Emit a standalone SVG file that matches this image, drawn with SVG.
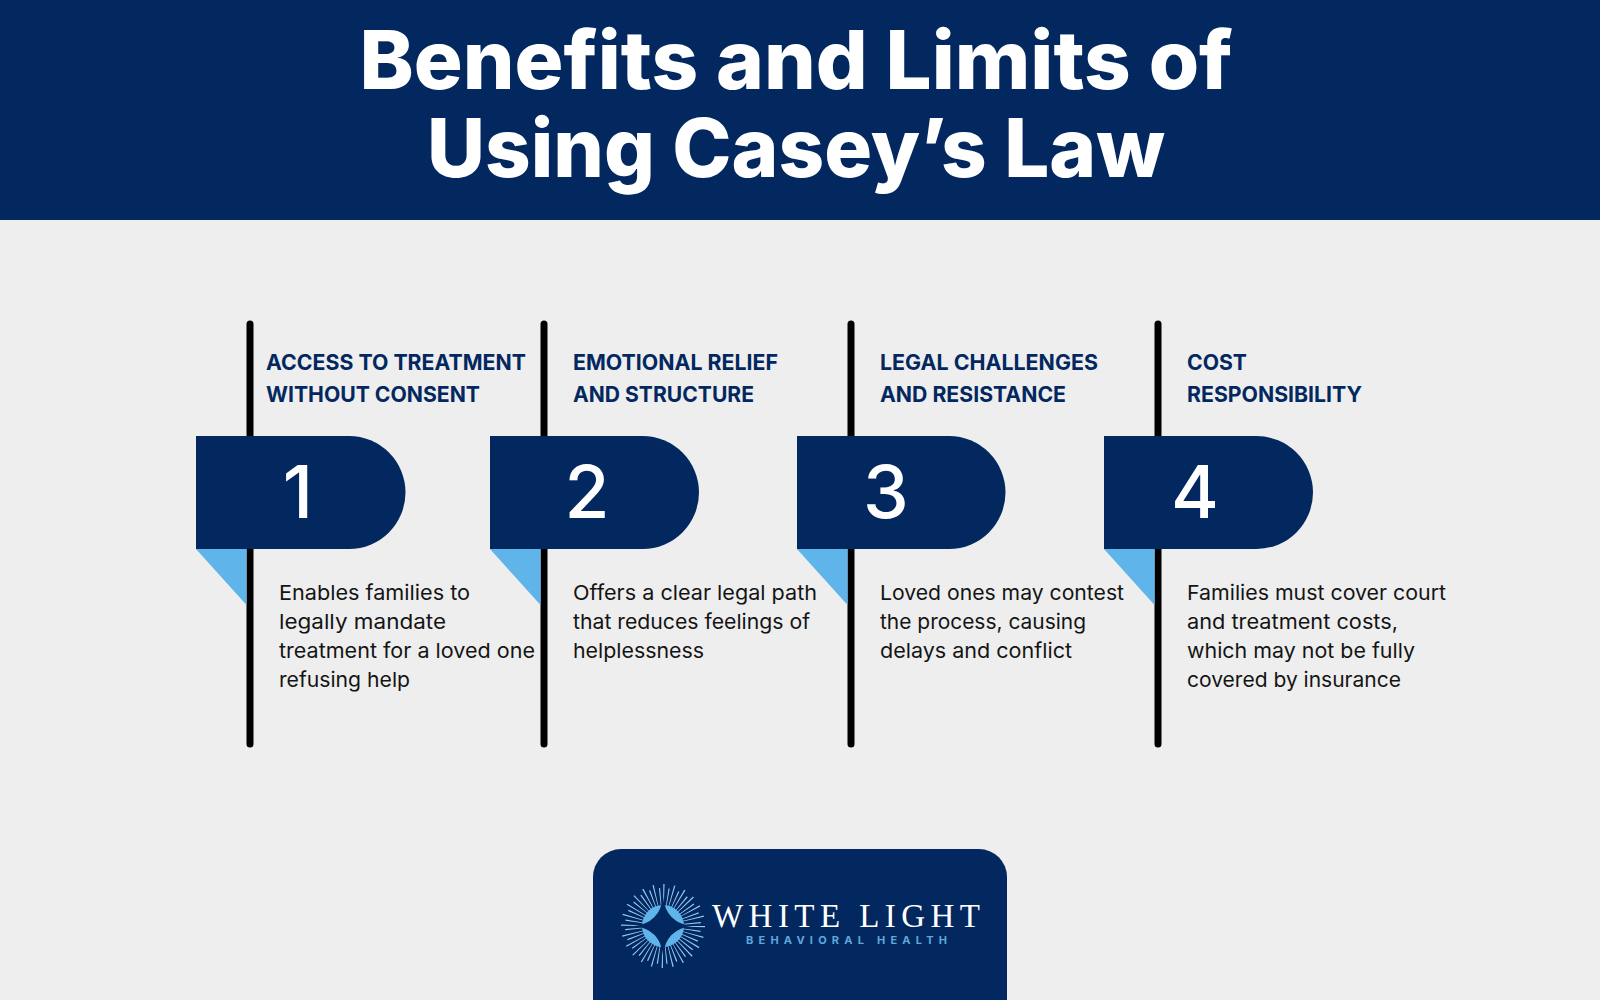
<svg xmlns="http://www.w3.org/2000/svg" width="1600" height="1000" viewBox="0 0 1600 1000">
<style>
.title{font:800 81px Inter,"Liberation Sans",sans-serif;fill:#fff;text-anchor:middle}
.head{font:700 21.5px Inter,"Liberation Sans",sans-serif;fill:#032860}
.body{font:400 20.500px Inter,"Noto Sans",sans-serif;fill:#141414}
.num{font:500 73px Inter,"Liberation Sans",sans-serif;fill:#fff;text-anchor:middle}
.badge{fill:#032860}
.fold{fill:#5fb5ea}
.rail{stroke:#000;stroke-width:7;stroke-linecap:round}
</style>
<rect width="1600" height="1000" fill="#eeeeee"/>
<g id="header">
<rect width="1600" height="220" fill="#032860"/>
<text class="title" x="796" y="89" textLength="873" lengthAdjust="spacingAndGlyphs">Benefits and Limits of</text>
<text class="title" x="796" y="177" textLength="738" lengthAdjust="spacingAndGlyphs">Using Casey’s Law</text>
</g>
<g id="connectors">
<line class="rail" x1="250" y1="324" x2="250" y2="744"/>
<line class="rail" x1="544" y1="324" x2="544" y2="744"/>
<line class="rail" x1="851" y1="324" x2="851" y2="744"/>
<line class="rail" x1="1158" y1="324" x2="1158" y2="744"/>
</g>
<g id="step1">
<path class="fold" d="M196 549H246.500V605Z"/>
<path class="badge" d="M196 436H349A56.500 56.500 0 0 1 349 549H196Z"/>
<text class="num" x="298" y="518">1</text>
<text class="head" x="266" y="370" textLength="260" lengthAdjust="spacingAndGlyphs">ACCESS TO TREATMENT</text>
<text class="head" x="266" y="402" textLength="214" lengthAdjust="spacingAndGlyphs">WITHOUT CONSENT</text>
<text class="body" x="279" y="600" textLength="191" lengthAdjust="spacingAndGlyphs">Enables families to</text>
<text class="body" x="279" y="629" textLength="167" lengthAdjust="spacingAndGlyphs">legally mandate</text>
<text class="body" x="279" y="658" textLength="256" lengthAdjust="spacingAndGlyphs">treatment for a loved one</text>
<text class="body" x="279" y="687" textLength="131" lengthAdjust="spacingAndGlyphs">refusing help</text>
</g>
<g id="step2">
<path class="fold" d="M490 549H540.500V605Z"/>
<path class="badge" d="M490 436H642.500A56.500 56.500 0 0 1 642.500 549H490Z"/>
<text class="num" x="587" y="518">2</text>
<text class="head" x="573" y="370" textLength="205" lengthAdjust="spacingAndGlyphs">EMOTIONAL RELIEF</text>
<text class="head" x="573" y="402" textLength="181" lengthAdjust="spacingAndGlyphs">AND STRUCTURE</text>
<text class="body" x="573" y="600" textLength="244" lengthAdjust="spacingAndGlyphs">Offers a clear legal path</text>
<text class="body" x="573" y="629" textLength="237" lengthAdjust="spacingAndGlyphs">that reduces feelings of</text>
<text class="body" x="573" y="658" textLength="131" lengthAdjust="spacingAndGlyphs">helplessness</text>
</g>
<g id="step3">
<path class="fold" d="M797 549H847.500V605Z"/>
<path class="badge" d="M797 436H949A56.500 56.500 0 0 1 949 549H797Z"/>
<text class="num" x="886" y="518">3</text>
<text class="head" x="880" y="370" textLength="218" lengthAdjust="spacingAndGlyphs">LEGAL CHALLENGES</text>
<text class="head" x="880" y="402" textLength="186" lengthAdjust="spacingAndGlyphs">AND RESISTANCE</text>
<text class="body" x="880" y="600" textLength="244" lengthAdjust="spacingAndGlyphs">Loved ones may contest</text>
<text class="body" x="880" y="629" textLength="206" lengthAdjust="spacingAndGlyphs">the process, causing</text>
<text class="body" x="880" y="658" textLength="192" lengthAdjust="spacingAndGlyphs">delays and conflict</text>
</g>
<g id="step4">
<path class="fold" d="M1104 549H1154.500V605Z"/>
<path class="badge" d="M1104 436H1256.500A56.500 56.500 0 0 1 1256.500 549H1104Z"/>
<text class="num" x="1195" y="518">4</text>
<text class="head" x="1187" y="370" textLength="60" lengthAdjust="spacingAndGlyphs">COST</text>
<text class="head" x="1187" y="402" textLength="175" lengthAdjust="spacingAndGlyphs">RESPONSIBILITY</text>
<text class="body" x="1187" y="600" textLength="259" lengthAdjust="spacingAndGlyphs">Families must cover court</text>
<text class="body" x="1187" y="629" textLength="211" lengthAdjust="spacingAndGlyphs">and treatment costs,</text>
<text class="body" x="1187" y="658" textLength="228" lengthAdjust="spacingAndGlyphs">which may not be fully</text>
<text class="body" x="1187" y="687" textLength="214" lengthAdjust="spacingAndGlyphs">covered by insurance</text>
</g>
<g id="logo">
<path d="M593 1000V877A28 28 0 0 1 621 849H979A28 28 0 0 1 1007 877V1000Z" fill="#032860"/>
<circle cx="663" cy="926" r="29" fill="none" stroke="#94cbf0" stroke-width="26" stroke-dasharray="0.900 6.692"/>
<circle cx="663" cy="926" r="27" fill="none" stroke="#94cbf0" stroke-width="22" stroke-dasharray="0.900 6.169" stroke-dashoffset="3.530"/>
<circle cx="663" cy="926" r="21" fill="#5fb5ea"/>
<path d="M663 897Q666 923 692 926Q666 929 663 955Q660 929 634 926Q660 923 663 897Z" fill="#032860"/>
<path d="M663 910Q665 924 679 926Q665 928 663 942Q661 928 647 926Q661 924 663 910Z" fill="#032860" stroke="#032860" stroke-width="5" stroke-linejoin="round"/>
<text x="712" y="927" font-family="'Liberation Serif',serif" font-size="33" fill="#fff" textLength="268">WHITE LIGHT</text>
<text x="746" y="944" font-family="Inter,'Liberation Sans',sans-serif" font-weight="700" font-size="11" fill="#5fa8dc" textLength="201">BEHAVIORAL HEALTH</text>
</g>
</svg>
